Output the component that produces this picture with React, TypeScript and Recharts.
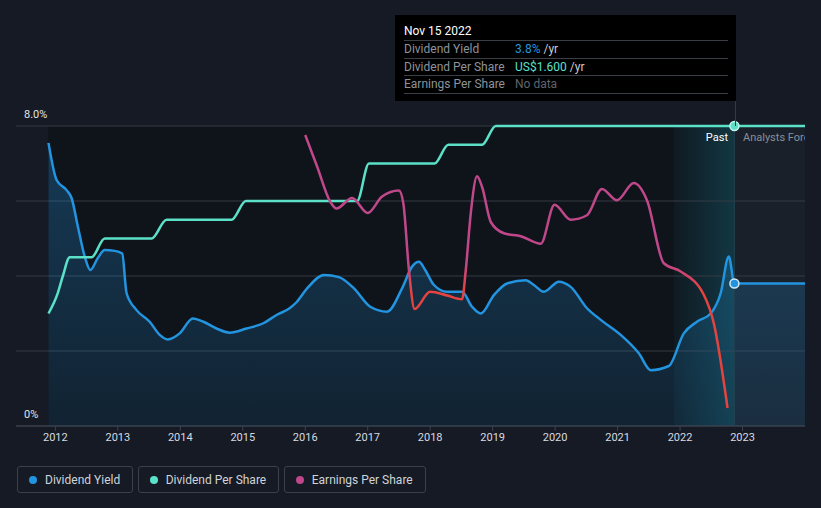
import React from "react";
import {
  ComposedChart,
  Area,
  Line,
  XAxis,
  YAxis,
  CartesianGrid,
  ReferenceArea,
  ReferenceLine,
  ReferenceDot,
} from "recharts";

// x axis ticks (years)
const yearTicks = [2012, 2013, 2014, 2015, 2016, 2017, 2018, 2019, 2020, 2021, 2022, 2023];
const yieldTicks = [0, 2, 4, 6, 8];

// Dividend Yield (%)
const yieldYears = [
  2011.89, 2012.02, 2012.18, 2012.26, 2012.36, 2012.47, 2012.56, 2012.68, 2012.79, 2012.95,
  2013.07, 2013.14, 2013.3, 2013.51, 2013.67, 2013.8, 2013.99, 2014.2, 2014.37, 2014.58,
  2014.79, 2015.06, 2015.33, 2015.54, 2015.75, 2015.86, 2016.03, 2016.3, 2016.54, 2016.78,
  2017.04, 2017.31, 2017.55, 2017.71, 2017.82, 2017.92, 2018.06, 2018.27, 2018.51, 2018.67,
  2018.81, 2019.02, 2019.23, 2019.53, 2019.66, 2019.82, 2020.06, 2020.25, 2020.51, 2020.73,
  2021.05, 2021.34, 2021.53, 2021.82, 2022.06, 2022.27, 2022.49, 2022.65, 2022.78, 2022.87,
  2024.0,
];
const yieldValues = [
  7.55, 6.56, 6.29, 6.08, 5.32, 4.52, 4.16, 4.48, 4.69, 4.67,
  4.6, 3.54, 3.09, 2.78, 2.43, 2.31, 2.47, 2.87, 2.78, 2.6,
  2.49, 2.6, 2.74, 2.96, 3.14, 3.3, 3.67, 4.03, 3.97, 3.67,
  3.18, 3.05, 3.67, 4.25, 4.38, 4.16, 3.76, 3.58, 3.58, 3.18,
  3.0, 3.49, 3.8, 3.89, 3.76, 3.58, 3.85, 3.71, 3.14, 2.83,
  2.43, 1.94, 1.49, 1.6, 2.47, 2.78, 3.0, 3.54, 4.52, 3.8,
  3.8,
];

// Dividend Per Share (US$)
const dpsYears = [
  2011.89, 2012.04, 2012.12, 2012.23, 2012.58, 2012.79, 2013.54, 2013.78, 2014.82, 2015.05,
  2016.83, 2017.02, 2018.07, 2018.29, 2018.83, 2019.05, 2024.0,
];
const dpsValues = [
  0.6, 0.71, 0.8, 0.9, 0.9, 1.0, 1.0, 1.1, 1.1, 1.2,
  1.2, 1.4, 1.4, 1.5, 1.5, 1.6, 1.6,
];

// Earnings Per Share (US$)
const epsYears = [
  2016.0, 2016.19, 2016.4, 2016.5, 2016.75, 2017.0, 2017.23, 2017.5, 2017.57, 2017.66,
  2017.75, 2018.0, 2018.27, 2018.51, 2018.57, 2018.65, 2018.75, 2018.83, 2018.97, 2019.18,
  2019.45, 2019.77, 2019.99, 2020.25, 2020.51, 2020.75, 2020.99, 2021.26, 2021.47, 2021.74,
  2022.01, 2022.38, 2022.54, 2022.76,
];
const epsValues = [
  3.88, 3.46, 2.99, 2.9, 3.04, 2.84, 3.06, 3.14, 2.97, 2.08,
  1.56, 1.79, 1.74, 1.69, 2.08, 2.84, 3.33, 3.19, 2.72, 2.57,
  2.53, 2.43, 2.95, 2.75, 2.81, 3.16, 3.01, 3.24, 3.01, 2.17,
  2.06, 1.75, 1.37, 0.24,
];

const seriesNames = ["Dividend Yield", "Dividend Per Share", "Earnings Per Share"];

const BLUE = "#2394df";
const TEAL = "#5be1c8";
const MAGENTA = "#c0478a";
const RED = "#e5433f";
const FONT = "Roboto, 'Noto Sans', sans-serif";

const yieldData = yieldYears.map((x, i) => ({ x, v: yieldValues[i] }));
const dpsData = dpsYears.map((x, i) => ({ x, v: dpsValues[i] }));
const epsData = epsYears.map((x, i) => ({ x, v: epsValues[i] }));

const pastStart = 2011.89;
const bandStart = 2021.9;
const nowX = 2022.87;
const endX = 2024.0;

const renderYTick = (props: any) => {
  const { y, payload } = props;
  const v = Number(payload.value);
  if (v !== 0 && v !== 8) return <g />;
  return (
    <text x={24} y={y - 8} fill="#e2e4e8" fontSize={11} fontFamily={FONT}>
      {v === 8 ? "8.0%" : "0%"}
    </text>
  );
};

const rowStyle: React.CSSProperties = {
  display: "flex",
  height: 16.7,
  lineHeight: "17px",
  borderBottom: "1px solid #3a3f47",
  fontSize: 12,
  color: "#8d939b",
};

export default function App() {
  const legendColors = [BLUE, TEAL, MAGENTA];
  return (
    <div
      style={{
        position: "fixed",
        left: 0,
        top: 0,
        width: 821,
        height: 508,
        background: "#151a24",
        fontFamily: FONT,
        overflow: "hidden",
      }}
    >
      <ComposedChart
        width={821}
        height={460}
        margin={{ top: 126, right: 16, bottom: 4, left: 15 }}
      >
        <defs>
          <linearGradient id="yieldFill" x1="0" y1="0" x2="0" y2="1">
            <stop offset="0%" stopColor={BLUE} stopOpacity={0.3} />
            <stop offset="100%" stopColor={BLUE} stopOpacity={0.12} />
          </linearGradient>
          <linearGradient id="bandFill" x1="0" y1="0" x2="1" y2="0">
            <stop offset="0%" stopColor="#1ec8e6" stopOpacity={0.04} />
            <stop offset="100%" stopColor="#1ec8e6" stopOpacity={0.2} />
          </linearGradient>
          <linearGradient id="epsStroke" x1="0" y1="0" x2="0" y2="508" gradientUnits="userSpaceOnUse">
            <stop offset={262 / 508} stopColor={MAGENTA} />
            <stop offset={292 / 508} stopColor={RED} />
          </linearGradient>
        </defs>
        <ReferenceArea x1={pastStart} x2={nowX} y1={0} y2={8} fill="#0f131a" fillOpacity={1} stroke="none" zIndex={-200} />
        <ReferenceArea x1={bandStart} x2={nowX} y1={0} y2={8} fill="url(#bandFill)" fillOpacity={1} stroke="none" zIndex={-190} />
        <ReferenceArea x1={nowX} x2={endX} y1={0} y2={8} fill="#19202a" fillOpacity={1} stroke="none" zIndex={-200} />
        <CartesianGrid vertical={false} stroke="#343a45" strokeDasharray="" />
        <XAxis
          type="number"
          dataKey="x"
          domain={[2011.37, 2024.0]}
          ticks={yearTicks}
          allowDataOverflow
          height={30}
          tickSize={5}
          tick={{ fill: "#d8dbe0", fontSize: 11, fontFamily: FONT }}
          tickLine={{ stroke: "#3c4350" }}
          axisLine={{ stroke: "#3c4350" }}
        />
        <YAxis
          domain={[0, 8]}
          ticks={yieldTicks}
          interval={0}
          width={1}
          axisLine={false}
          tickLine={false}
          tick={renderYTick}
        />
        <YAxis yAxisId="dps" domain={[0, 1.6]} hide />
        <YAxis yAxisId="eps" domain={[0, 4]} hide />
        <ReferenceLine x={nowX} stroke="#23404e" strokeWidth={1} />
        <Area
          data={yieldData}
          dataKey="v"
          name={seriesNames[0]}
          type="monotone"
          stroke={BLUE}
          strokeWidth={2.5}
          fill="url(#yieldFill)"
          fillOpacity={1}
          isAnimationActive={false}
          dot={false}
          activeDot={false}
        />
        <Line
          data={dpsData}
          dataKey="v"
          yAxisId="dps"
          name={seriesNames[1]}
          type="monotone"
          stroke={TEAL}
          strokeWidth={2.5}
          dot={false}
          activeDot={false}
          isAnimationActive={false}
        />
        <Line
          data={epsData}
          dataKey="v"
          yAxisId="eps"
          name={seriesNames[2]}
          type="monotone"
          stroke="url(#epsStroke)"
          strokeWidth={2.5}
          dot={false}
          activeDot={false}
          isAnimationActive={false}
        />
        <ReferenceDot x={nowX} y={1.6} yAxisId="dps" r={4.5} fill={TEAL} stroke="#c6f5ec" strokeWidth={1.5} />
        <ReferenceDot x={nowX} y={3.8} r={4.5} fill={BLUE} stroke="#d3e9f8" strokeWidth={1.5} />
      </ComposedChart>

      {/* cursor line above the plot */}
      <div style={{ position: "absolute", left: 735, top: 100, width: 1, height: 26, background: "#23404e" }} />

      {/* Past / Analysts Forecasts */}
      <div style={{ position: "absolute", right: 821 - 728, top: 131, fontSize: 11, color: "#ffffff", lineHeight: "14px" }}>
        Past
      </div>
      <div
        style={{
          position: "absolute",
          left: 736,
          top: 131,
          width: 69,
          overflow: "hidden",
          whiteSpace: "nowrap",
          fontSize: 11,
          color: "#8a8f98",
          lineHeight: "14px",
          paddingLeft: 7,
          boxSizing: "border-box",
        }}
      >
        Analysts Forecasts
      </div>

      {/* tooltip */}
      <div
        style={{
          position: "absolute",
          left: 395,
          top: 15,
          width: 341,
          height: 86,
          background: "#000000",
          padding: "0 8px 0 9px",
          boxSizing: "border-box",
        }}
      >
        <div style={{ height: 25, lineHeight: "32px", fontSize: 12, color: "#ffffff", borderBottom: "1px solid #3a3f47" }}>
          Nov 15 2022
        </div>
        <div style={rowStyle}>
          <span style={{ width: 111 }}>Dividend Yield</span>
          <span style={{ color: BLUE }}>3.8%</span>
          <span style={{ color: "#c9ccd1" }}>&nbsp;/yr</span>
        </div>
        <div style={rowStyle}>
          <span style={{ width: 111 }}>Dividend Per Share</span>
          <span style={{ color: TEAL }}>US$1.600</span>
          <span style={{ color: "#c9ccd1" }}>&nbsp;/yr</span>
        </div>
        <div style={rowStyle}>
          <span style={{ width: 111 }}>Earnings Per Share</span>
          <span style={{ color: "#5f646c" }}>No data</span>
        </div>
      </div>

      {/* legend */}
      <div style={{ position: "absolute", left: 17, top: 466, display: "flex", gap: 4.5 }}>
        {seriesNames.map((n, i) => (
          <div
            key={n}
            style={{
              height: 25,
              border: "1px solid #3b414c",
              borderRadius: 3,
              display: "flex",
              alignItems: "center",
              padding: "0 12px 0 11px",
              fontSize: 12,
              color: "#d0d4d9",
            }}
          >
            <span
              style={{
                width: 8,
                height: 8,
                borderRadius: 4,
                background: legendColors[i],
                marginRight: 8,
              }}
            />
            {n}
          </div>
        ))}
      </div>
    </div>
  );
}
